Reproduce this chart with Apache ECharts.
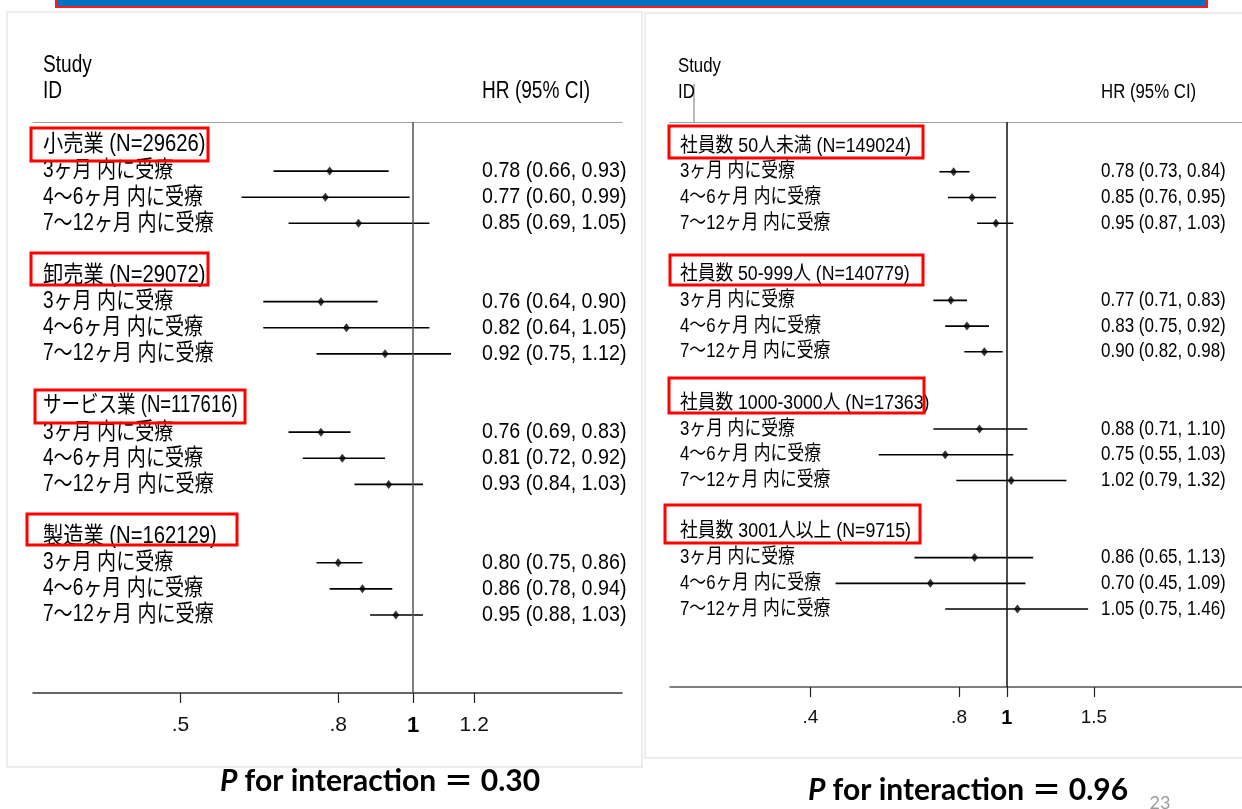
<!DOCTYPE html>
<html>
<head>
<meta charset="utf-8">
<script src="https://cdn.jsdelivr.net/npm/echarts@6/dist/echarts.min.js"></script>
<style>
  html, body { margin: 0; padding: 0; background: #ffffff; }
  #chart { width: 1242px; height: 809px; }
</style>
</head>
<body>
<div id="chart"></div>
<script>
// ---- Data -------------------------------------------------------------
// Follow-up periods shown under every subgroup
const periods = ['3ヶ月 内に受療', '4〜6ヶ月 内に受療', '7〜12ヶ月 内に受療'];

// Industry subgroups (left plot): HR and 95% CI, three periods per group
const industryGroups = ['小売業 (N=29626)', '卸売業 (N=29072)', 'サービス業 (N=117616)', '製造業 (N=162129)'];
const industryHR = [0.78, 0.77, 0.85, 0.76, 0.82, 0.92, 0.76, 0.81, 0.93, 0.80, 0.86, 0.95];
const industryLo = [0.66, 0.60, 0.69, 0.64, 0.64, 0.75, 0.69, 0.72, 0.84, 0.75, 0.78, 0.88];
const industryHi = [0.93, 0.99, 1.05, 0.90, 1.05, 1.12, 0.83, 0.92, 1.03, 0.86, 0.94, 1.03];
const industryTicks = [0.5, 0.8, 1, 1.2];
const industryTickLabels = ['.5', '.8', '1', '1.2'];

// Company size subgroups (right plot)
const sizeGroups = ['社員数 50人未満 (N=149024)', '社員数 50-999人 (N=140779)', '社員数 1000-3000人 (N=17363)', '社員数 3001人以上 (N=9715)'];
const sizeHR = [0.78, 0.85, 0.95, 0.77, 0.83, 0.90, 0.88, 0.75, 1.02, 0.86, 0.70, 1.05];
const sizeLo = [0.73, 0.76, 0.87, 0.71, 0.75, 0.82, 0.71, 0.55, 0.79, 0.65, 0.45, 0.75];
const sizeHi = [0.84, 0.95, 1.03, 0.83, 0.92, 0.98, 1.10, 1.03, 1.32, 1.13, 1.09, 1.46];
const sizeTicks = [0.4, 0.8, 1, 1.5];
const sizeTickLabels = ['.4', '.8', '1', '1.5'];

const pInteraction = ['0.30', '0.96'];

// ---- Layout -----------------------------------------------------------
const TXT = "'Liberation Sans', 'Noto Sans CJK JP', sans-serif";
const AXTXT = "'Liberation Sans Narrow', 'Liberation Sans', sans-serif";

const panels = [
  {
    groups: industryGroups, hr: industryHR, lo: industryLo, hi: industryHi,
    ticks: industryTicks, tickLabels: industryTickLabels,
    grid: { left: 33, top: 122, width: 589, height: 571 },
    xMin: 0.3222, xMax: 1.864, yMin: -0.88, yMax: 20.99,
    labelFont: 23, labelScale: 0.83, groupScale: [0.88, 0.88, 0.805, 0.88],
    hrFont: 22, hrScale: 0.895, hrCol: 449,
    headFont: 23, headScale: 0.83, headX: 43, hrHeadX: 482,
    nullColor: '#555', axisColor: '#333', topColor: '#a0a0a0', tickFont: 21, tickMargin: 22,
    boxes: [[31, 128, 177, 33], [31, 253, 177, 32], [35, 390, 210, 33], [27, 514, 210, 31]],
    pX: 380, pY: 781
  },
  {
    groups: sizeGroups, hr: sizeHR, lo: sizeLo, hi: sizeHi,
    ticks: sizeTicks, tickLabels: sizeTickLabels,
    grid: { left: 670, top: 122, width: 572, height: 565 },
    xMin: 0.208, xMax: 2.991, yMin: -0.934, yMax: 21.03,
    labelFont: 20, labelScale: 0.84, groupScale: [0.89, 0.885, 0.885, 0.89],
    hrFont: 20, hrScale: 0.85, hrCol: 431,
    headFont: 20, headScale: 0.84, headX: 678, hrHeadX: 1101,
    nullColor: '#111', axisColor: '#555', topColor: '#a0a0a0', tickFont: 19, tickMargin: 21,
    boxes: [[669, 126, 254, 32], [670, 255, 253, 30], [669, 378, 255, 35], [665, 505, 255, 38]],
    pX: 968, pY: 790
  }
];

// Row index of every line in a plot: header, three periods, blank spacer
function buildRows(groups) {
  const rows = [];
  groups.forEach((g, gi) => {
    rows.push({ row: gi * 5, text: g, group: gi });
    periods.forEach((p, pi) => rows.push({ row: gi * 5 + 1 + pi, text: p, group: -1 }));
  });
  return rows;
}
const rowOf = i => Math.floor(i / 3) * 5 + 1 + (i % 3);
const fmt = (h, l, u) => h.toFixed(2) + ' (' + l.toFixed(2) + ', ' + u.toFixed(2) + ')';

const grids = [], xAxes = [], yAxes = [], series = [], graphics = [];

panels.forEach((p, k) => {
  grids.push(Object.assign({ containLabel: false }, p.grid));

  // bottom log axis with HR ticks
  xAxes.push({
    type: 'log', gridIndex: k, position: 'bottom', min: p.xMin, max: p.xMax,
    axisLine: { show: true, onZero: false, lineStyle: { color: p.axisColor, width: 1.5 } },
    axisTick: { show: true, customValues: p.ticks, length: 10, lineStyle: { color: '#222', width: 1.2 } },
    axisLabel: {
      show: true, customValues: p.ticks, margin: p.tickMargin,
      fontFamily: AXTXT, fontSize: p.tickFont, color: '#111',
      formatter: v => {
        let best = 0;
        p.ticks.forEach((t, i) => { if (Math.abs(t - v) < Math.abs(p.ticks[best] - v)) best = i; });
        const s = p.tickLabels[best];
        return s === '1' ? '{one|1}' : s;
      },
      rich: { one: { fontFamily: AXTXT, fontSize: p.tickFont + 1, fontWeight: 'bold', color: '#000' } }
    },
    splitLine: { show: false }
  });
  // top rule of the plot area
  xAxes.push({
    type: 'log', gridIndex: k, position: 'top', min: p.xMin, max: p.xMax,
    axisLine: { show: true, onZero: false, lineStyle: { color: p.topColor, width: 1.2 } },
    axisTick: { show: false }, axisLabel: { show: false }, splitLine: { show: false }
  });
  yAxes.push({
    type: 'value', gridIndex: k, inverse: true, min: p.yMin, max: p.yMax,
    axisLine: { show: false, onZero: false }, axisTick: { show: false }, axisLabel: { show: false }, splitLine: { show: false }
  });

  const rows = buildRows(p.groups);
  const xi = k * 2, yi = k;

  // confidence interval whiskers
  series.push({
    type: 'custom', xAxisIndex: xi, yAxisIndex: yi, silent: true, z: 3,
    data: p.hr.map((v, i) => [p.lo[i], p.hi[i], rowOf(i)]),
    encode: { x: [0, 1], y: 2 },
    renderItem: (params, api) => {
      const y = api.value(2);
      const a = api.coord([api.value(0), y]);
      const b = api.coord([api.value(1), y]);
      return { type: 'line', shape: { x1: a[0], y1: a[1], x2: b[0], y2: b[1] },
               style: { stroke: '#000', lineWidth: 1.6 } };
    }
  });
  // point estimates + line of no effect
  series.push({
    type: 'scatter', xAxisIndex: xi, yAxisIndex: yi, silent: true, z: 4,
    symbol: 'diamond', symbolSize: [7, 9],
    itemStyle: { color: '#000' },
    data: p.hr.map((v, i) => [v, rowOf(i)]),
    markLine: {
      silent: true, symbol: ['none', 'none'], label: { show: false },
      lineStyle: { color: p.nullColor, width: 1.5, type: 'solid' },
      emphasis: { disabled: true },
      data: [{ xAxis: 1 }]
    }
  });
  // study / subgroup labels
  series.push({
    type: 'custom', xAxisIndex: xi, yAxisIndex: yi, silent: true, z: 5,
    data: rows.map(r => [p.xMin, r.row]),
    encode: { x: 0, y: 1 },
    renderItem: (params, api) => {
      const r = rows[params.dataIndex];
      const c = api.coord([api.value(0), api.value(1)]);
      return { type: 'text', x: params.coordSys.x + 10, y: c[1],
               scaleX: r.group >= 0 ? p.groupScale[r.group] : p.labelScale,
               style: { text: r.text, font: p.labelFont + 'px ' + TXT,
                        fill: '#000', align: 'left', verticalAlign: 'middle' } };
    }
  });
  // HR (95% CI) column
  series.push({
    type: 'custom', xAxisIndex: xi, yAxisIndex: yi, silent: true, z: 5,
    data: p.hr.map((v, i) => [p.xMin, rowOf(i)]),
    encode: { x: 0, y: 1 },
    renderItem: (params, api) => {
      const i = params.dataIndex;
      const c = api.coord([api.value(0), api.value(1)]);
      return { type: 'text', x: params.coordSys.x + p.hrCol, y: c[1], scaleX: p.hrScale,
               style: { text: fmt(p.hr[i], p.lo[i], p.hi[i]), font: p.hrFont + 'px ' + TXT,
                        fill: '#000', align: 'left', verticalAlign: 'middle' } };
    }
  });

  // column headings
  graphics.push(
    { type: 'text', x: p.headX, y: 66, scaleX: p.headScale, z: 5,
      style: { text: 'Study', font: p.headFont + 'px ' + TXT, fill: '#000', verticalAlign: 'middle' } },
    { type: 'text', x: p.headX, y: 92, scaleX: p.headScale, z: 5,
      style: { text: 'ID', font: p.headFont + 'px ' + TXT, fill: '#000', verticalAlign: 'middle' } },
    { type: 'text', x: p.hrHeadX, y: 92, scaleX: p.headScale, z: 5,
      style: { text: 'HR (95% CI)', font: p.headFont + 'px ' + TXT, fill: '#000', verticalAlign: 'middle' } }
  );
  // highlight boxes around subgroup headers
  p.boxes.forEach(b => graphics.push({
    type: 'rect', z: 20, silent: true,
    shape: { x: b[0], y: b[1], width: b[2], height: b[3] },
    style: { fill: 'none', stroke: '#ff0000', lineWidth: 3 }
  }));
  // interaction p-value
  graphics.push({
    type: 'text', x: p.pX, y: p.pY, z: 5,
    style: {
      text: '{i|P} for interaction ＝ ' + pInteraction[k],
      font: "bold 30px 'Lato', 'Noto Sans CJK JP', sans-serif",
      fill: '#000', align: 'center', verticalAlign: 'middle',
      rich: { i: { font: "italic bold 30px 'Lato', sans-serif", fill: '#000' } }
    }
  });
});

// panel backgrounds, title bar and slide number
graphics.unshift(
  { type: 'rect', z: -10, silent: true, shape: { x: 7, y: 12, width: 635, height: 755 },
    style: { fill: '#ffffff', stroke: '#e3e9eb', lineWidth: 1.5 } },
  { type: 'rect', z: -10, silent: true, shape: { x: 645, y: 13, width: 600, height: 745 },
    style: { fill: '#ffffff', stroke: '#e3e9eb', lineWidth: 1.5 } },
  { type: 'rect', z: 10, silent: true, shape: { x: 56, y: -4, width: 1151, height: 11 },
    style: { fill: '#0070c0', stroke: '#ff1a1a', lineWidth: 2 } },
  { type: 'line', z: 5, silent: true, shape: { x1: 694, y1: 84, x2: 694, y2: 122 },
    style: { stroke: '#777', lineWidth: 1 } },
  { type: 'text', x: 1160, y: 803, z: 5,
    style: { text: '23', font: "18px 'Lato', sans-serif", fill: '#9a9a9a', align: 'center', verticalAlign: 'middle' } }
);

const chart = echarts.init(document.getElementById('chart'), null, { renderer: 'canvas' });
chart.setOption({
  animation: false,
  backgroundColor: '#ffffff',
  grid: grids,
  xAxis: xAxes,
  yAxis: yAxes,
  series: series,
  graphic: graphics
});
</script>
</body>
</html>
